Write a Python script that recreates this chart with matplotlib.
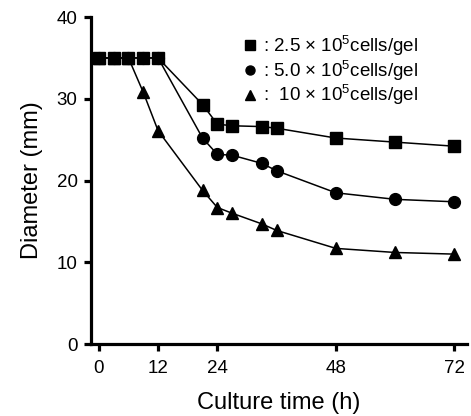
import matplotlib
matplotlib.use("Agg")
import matplotlib.pyplot as plt
from matplotlib.lines import Line2D

plt.rcParams['font.family'] = ['Liberation Sans', 'DejaVu Sans']
plt.rcParams['mathtext.fontset'] = 'custom'
plt.rcParams['mathtext.rm'] = 'Liberation Sans'

# culture time (h)
t = [0, 3, 6, 9, 12, 21, 24, 27, 33, 36, 48, 60, 72]
d_25 = [35, 35, 35, 35, 35, 29.3, 26.9, 26.7, 26.6, 26.4, 25.2, 24.7, 24.2]
d_50 = [35, 35, 35, 35, 35, 25.2, 23.2, 23.1, 22.1, 21.2, 18.5, 17.7, 17.4]
d_10 = [35, 35, 35, 30.8, 26.1, 18.8, 16.7, 16.0, 14.7, 13.9, 11.7, 11.2, 11.0]

labels = [r': 2.5 $\times$ 10$^{5}$cells/gel',
          r': 5.0 $\times$ 10$^{5}$cells/gel',
          r':  10 $\times$ 10$^{5}$cells/gel']

fig = plt.figure(figsize=(4.71, 4.16), dpi=100)
ax = fig.add_axes([0.193, 0.173, 0.798, 0.786])

ax.plot(t, d_10, '-^', color='black', lw=1.1, ms=8.5)
ax.plot(t, d_50, '-o', color='black', lw=1.1, ms=8.5)
ax.plot(t, d_25, '-s', color='black', lw=1.1, ms=8.2)

ax.set_xlim(-1.6, 74.5)
ax.set_ylim(0, 40)
ax.set_xticks([0, 12, 24, 48, 72])
ax.set_yticks([0, 10, 20, 30, 40])

for s in ['top', 'right']:
    ax.spines[s].set_visible(False)
for s in ['left', 'bottom']:
    ax.spines[s].set_linewidth(2.3)
ax.tick_params(width=2.3, length=5, labelsize=13.5)
ax.tick_params(axis='x', pad=6.5)
ax.tick_params(axis='y', pad=4.5)

ax.set_xlabel('Culture time (h)', fontsize=17, labelpad=11)
ax.set_ylabel('Diameter (mm)', fontsize=17, labelpad=10)

handles = [Line2D([], [], ls='', marker=m, color='black', ms=ms)
           for m, ms in [('s', 7.5), ('o', 6.5), ('^', 6.5)]]
ax.legend(handles, labels, loc='upper right', bbox_to_anchor=(0.895, 0.98),
          frameon=False, fontsize=13.5, handlelength=0.8, handletextpad=0.3,
          labelspacing=0.0, borderpad=0)

fig.savefig('out.png', dpi=100)
